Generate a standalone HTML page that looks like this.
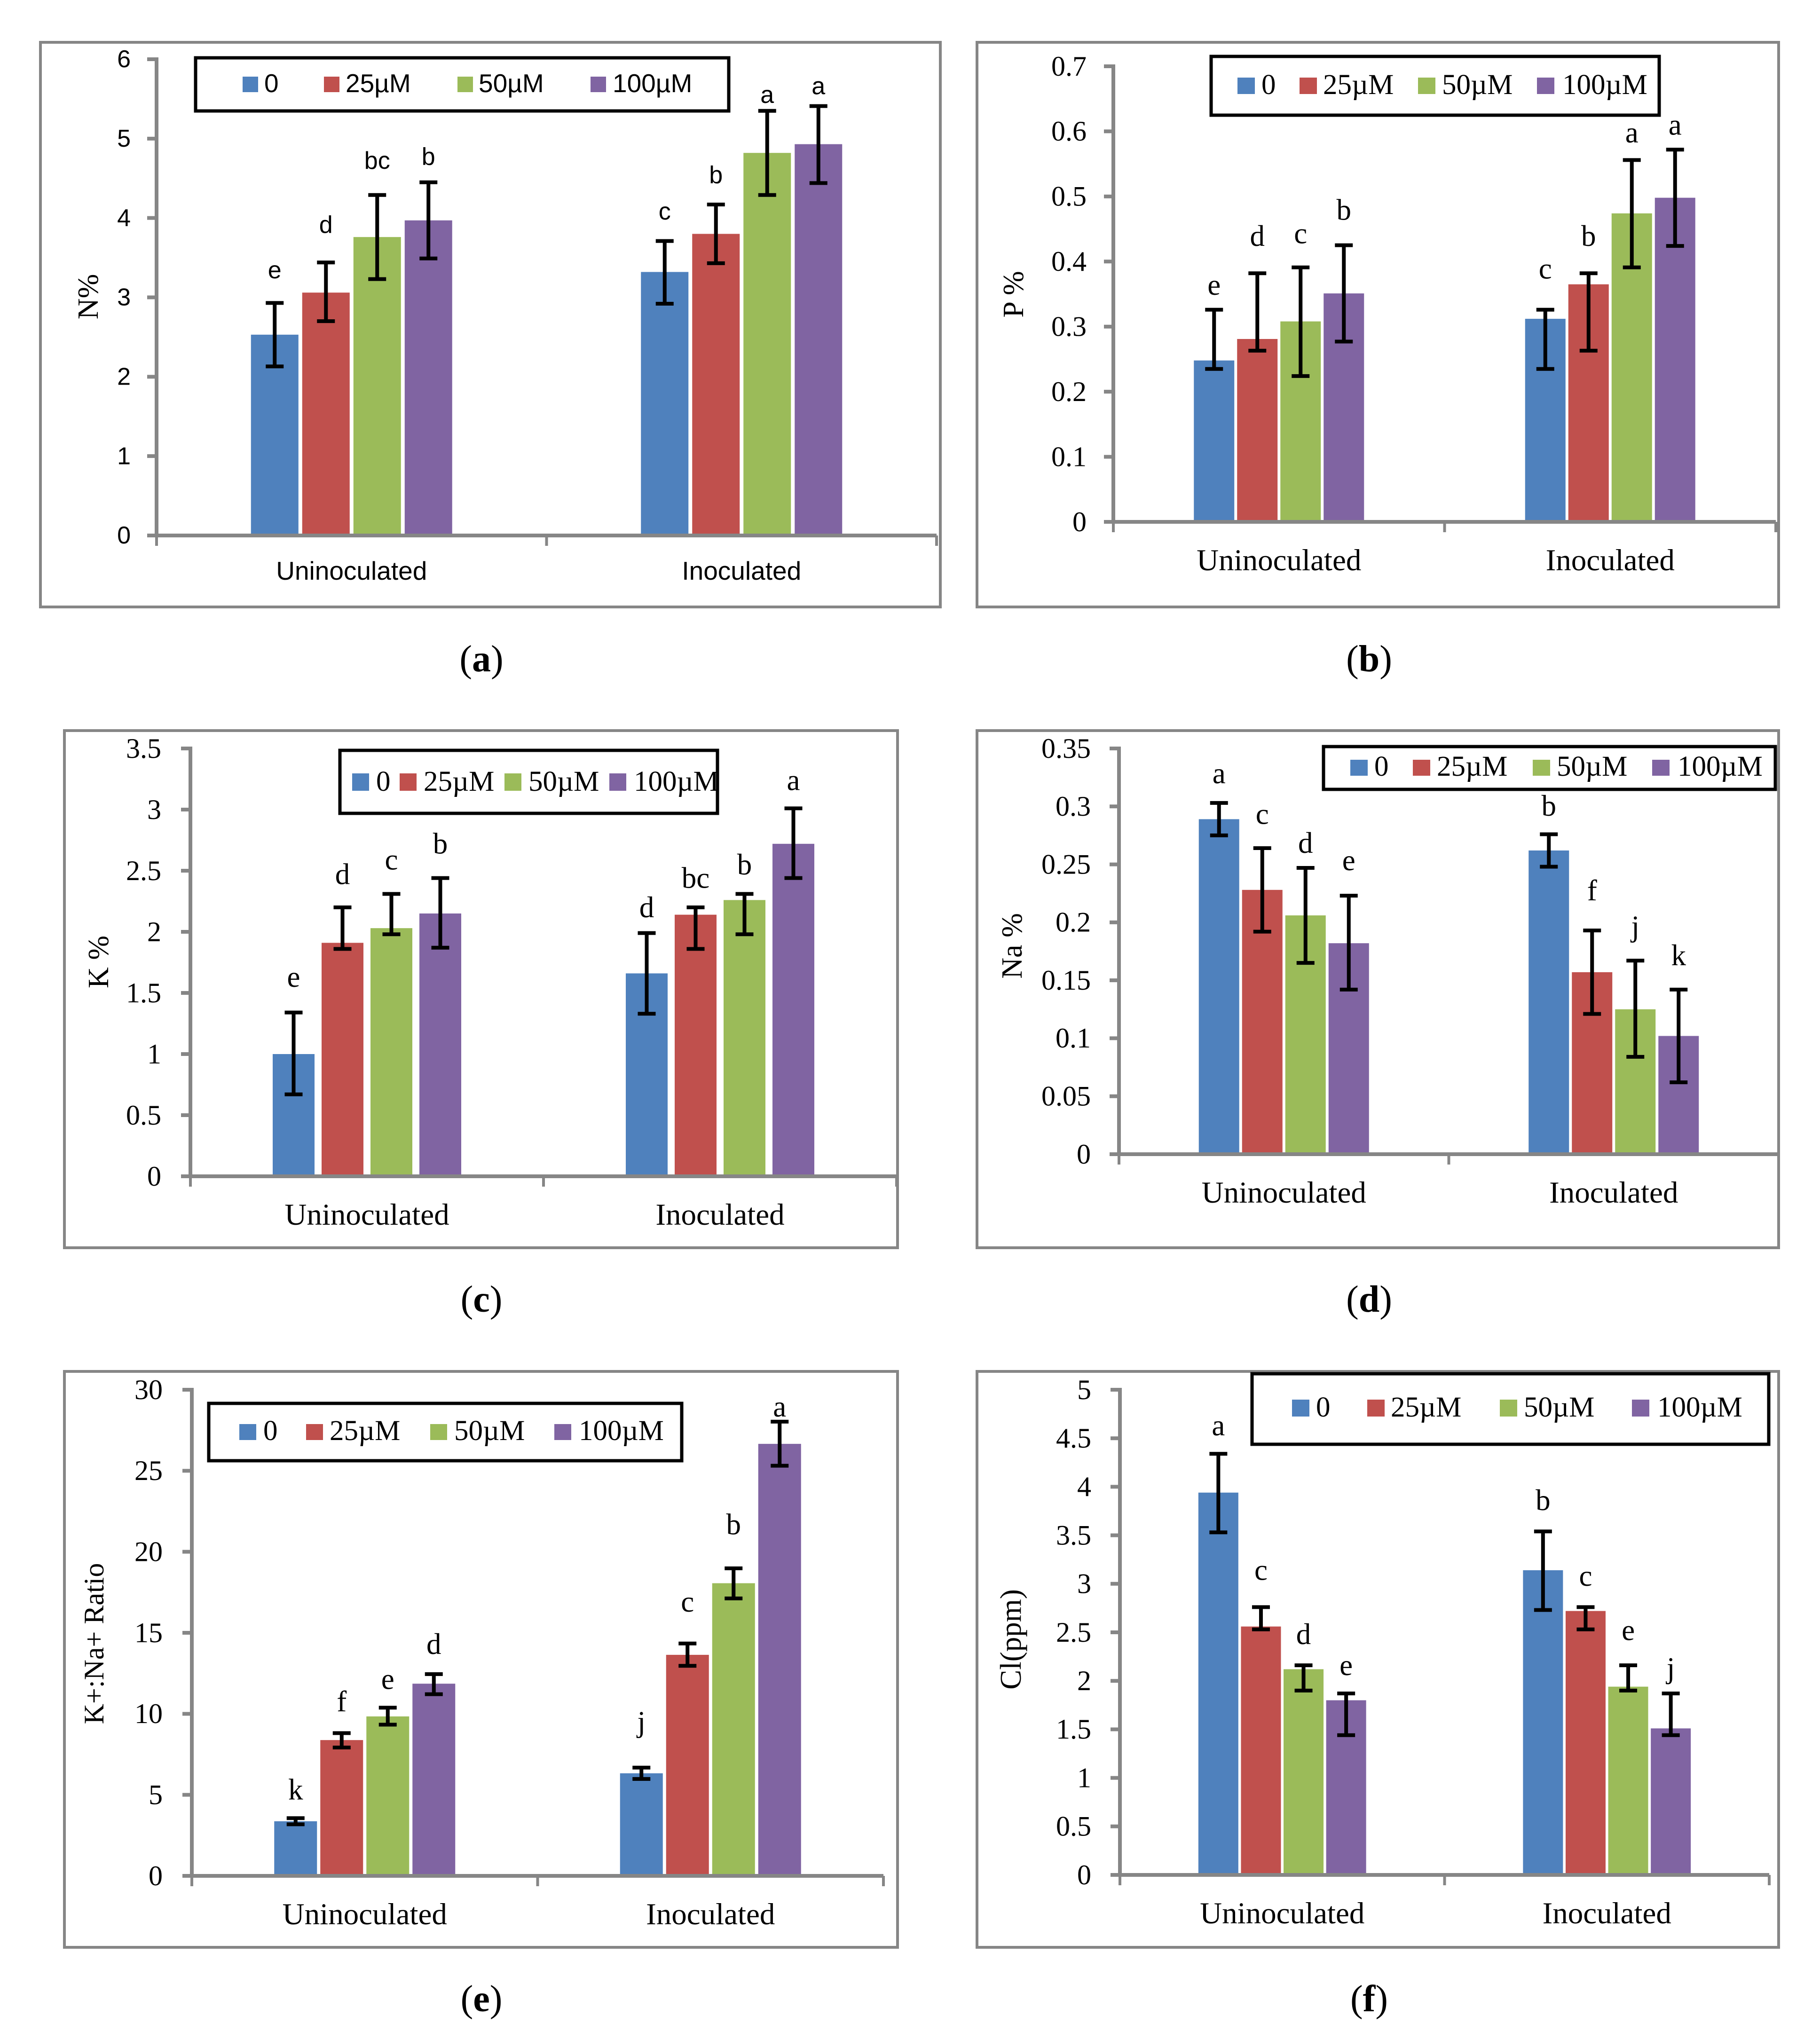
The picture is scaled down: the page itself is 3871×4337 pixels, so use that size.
<!DOCTYPE html>
<html lang="en">
<head>
<meta charset="utf-8">
<title>Six-panel nutrient bar charts</title>
<style>
html,body{margin:0;padding:0;background:#fff;}
svg{display:block;}
</style>
</head>
<body>
<svg id="figure" xmlns="http://www.w3.org/2000/svg" width="3871" height="4337" viewBox="0 0 3871 4337">
<rect x="0" y="0" width="3871" height="4337" fill="#ffffff"/>
</svg>
<script>
// ---- shared data ----
const categories = ['Uninoculated', 'Inoculated'];
const seriesLabels = ['0', '25µM', '50µM', '100µM'];

// ---- panel a: N% ----
const nTicks = ['0', '1', '2', '3', '4', '5', '6'];
const nValues = [2.53, 3.06, 3.76, 3.97, 3.32, 3.80, 4.82, 4.93];
const nHigh = [2.93, 3.44, 4.29, 4.45, 3.71, 4.17, 5.35, 5.41];
const nLow = [2.13, 2.70, 3.23, 3.49, 2.92, 3.43, 4.29, 4.44];
const nLetters = ['e', 'd', 'bc', 'b', 'c', 'b', 'a', 'a'];
const nLetterLift = [0.31, 0.37, 0.33, 0.22, 0.27, 0.27, 0.10, 0.15];

// ---- panel b: P % ----
const pTicks = ['0', '0.1', '0.2', '0.3', '0.4', '0.5', '0.6', '0.7'];
const pValues = [0.248, 0.281, 0.308, 0.351, 0.312, 0.365, 0.474, 0.498];
const pHigh = [0.326, 0.382, 0.391, 0.425, 0.326, 0.382, 0.556, 0.572];
const pLow = [0.235, 0.263, 0.224, 0.277, 0.235, 0.263, 0.391, 0.424];
const pLetters = ['e', 'd', 'c', 'b', 'c', 'b', 'a', 'a'];
const pLetterLift = [0.023, 0.042, 0.037, 0.039, 0.048, 0.042, 0.027, 0.023];

// ---- panel c: K % ----
const kTicks = ['0', '0.5', '1', '1.5', '2', '2.5', '3', '3.5'];
const kValues = [1.00, 1.91, 2.03, 2.15, 1.66, 2.14, 2.26, 2.72];
const kHigh = [1.34, 2.20, 2.31, 2.44, 1.99, 2.20, 2.31, 3.01];
const kLow = [0.67, 1.86, 1.98, 1.87, 1.33, 1.86, 1.98, 2.44];
const kLetters = ['e', 'd', 'c', 'b', 'd', 'bc', 'b', 'a'];
const kLetterLift = [0.21, 0.19, 0.20, 0.20, 0.13, 0.16, 0.16, 0.15];

// ---- panel d: Na % ----
const naTicks = ['0', '0.05', '0.1', '0.15', '0.2', '0.25', '0.3', '0.35'];
const naValues = [0.289, 0.228, 0.206, 0.182, 0.262, 0.157, 0.125, 0.102];
const naHigh = [0.303, 0.264, 0.247, 0.223, 0.276, 0.193, 0.167, 0.142];
const naLow = [0.275, 0.192, 0.165, 0.142, 0.248, 0.121, 0.084, 0.062];
const naLetters = ['a', 'c', 'd', 'e', 'b', 'f', 'j', 'k'];
const naLetterLift = [0.017, 0.021, 0.013, 0.022, 0.016, 0.026, 0.021, 0.021];

// ---- panel e: K+:Na+ ratio ----
const ratioTicks = ['0', '5', '10', '15', '20', '25', '30'];
const ratioValues = [3.37, 8.38, 9.84, 11.86, 6.33, 13.64, 18.06, 26.66];
const ratioHigh = [3.56, 8.81, 10.38, 12.45, 6.68, 14.34, 18.98, 28.03];
const ratioLow = [3.18, 7.92, 9.33, 11.21, 5.98, 12.96, 17.12, 25.31];
const ratioLetters = ['k', 'f', 'e', 'd', 'j', 'c', 'b', 'a'];
const ratioLetterLift = [1.16, 1.35, 1.16, 1.24, 2.21, 1.97, 2.10, 0.32];

// ---- panel f: Cl(ppm) ----
const clTicks = ['0', '0.5', '1', '1.5', '2', '2.5', '3', '3.5', '4', '4.5', '5'];
const clValues = [3.94, 2.56, 2.12, 1.80, 3.14, 2.72, 1.94, 1.51];
const clHigh = [4.34, 2.76, 2.16, 1.87, 3.54, 2.76, 2.16, 1.87];
const clLow = [3.53, 2.53, 1.90, 1.44, 2.73, 2.53, 1.90, 1.44];
const clLetters = ['a', 'c', 'd', 'e', 'b', 'c', 'e', 'j'];
const clLetterLift = [0.19, 0.28, 0.22, 0.19, 0.22, 0.22, 0.26, 0.16];

// ---- styling ----
const seriesColors = ['#4F81BD', '#C0504D', '#9BBB59', '#8064A2'];
const AXIS_GRAY = '#868686';
const SVG_NS = 'http://www.w3.org/2000/svg';
const SERIF = '"Liberation Serif", serif';
const SANS = '"Liberation Sans", sans-serif';
const root = document.getElementById('figure');

function make(tag, attrs, parent) {
  const node = document.createElementNS(SVG_NS, tag);
  Object.keys(attrs).forEach(function (k) { node.setAttribute(k, attrs[k]); });
  parent.appendChild(node);
  return node;
}

function drawPanel(p) {
  const g = make('g', {}, root);
  
  

  const frame = make('rect', { x: p.frame[0], y: p.frame[1], width: p.frame[2] - p.frame[0], height: p.frame[3] - p.frame[1], fill: '#fff', stroke: AXIS_GRAY, 'stroke-width': 6 }, g);
  
  

  const maxTick = parseFloat(p.ticks[p.ticks.length - 1]);
  const yScale = function (v) { return p.y0 - (v / maxTick) * (p.y0 - p.yTop); };
  const catWidth = (p.x1 - p.x0) / categories.length;
  const barX = function (i) {
    const cat = Math.floor(i / seriesLabels.length);
    const s = i % seriesLabels.length;
    const center = p.x0 + catWidth * (cat + 0.5);
    return center - (p.step * 3 + p.barW) / 2 + s * p.step;
  };

  // bars
  p.values.forEach(function (v, i) {
    const s = i % seriesLabels.length;
    const top = yScale(v);
    const bar = make('rect', { x: barX(i), y: top, width: p.barW, height: p.y0 - top, fill: seriesColors[s] }, g);
    
    
  });

  // error bars
  p.values.forEach(function (v, i) {
    const cx = barX(i) + p.barW / 2;
    const yHi = yScale(p.high[i]);
    const yLo = yScale(p.low[i]);
    const d = 'M' + cx + ' ' + yHi + 'V' + yLo + 'M' + (cx - 19) + ' ' + yHi + 'H' + (cx + 19) + 'M' + (cx - 19) + ' ' + yLo + 'H' + (cx + 19);
    const err = make('path', { d: d, fill: 'none', stroke: '#000', 'stroke-width': 8 }, g);
    
    
  });

  // significance letters
  p.letters.forEach(function (t, i) {
    const lab = make('text', { x: barX(i) + p.barW / 2, y: yScale(p.high[i] + p.lift[i]), 'text-anchor': 'middle', 'font-family': p.font, 'font-size': p.textSize, fill: '#000' }, g);
    lab.textContent = t;
    
    
  });

  // axes
  const yAxis = make('line', { x1: p.x0, y1: p.yTop - 4, x2: p.x0, y2: p.y0 + 4, stroke: AXIS_GRAY, 'stroke-width': 8 }, g);
  
  
  const xAxis = make('line', { x1: p.x0, y1: p.y0, x2: p.x1, y2: p.y0, stroke: AXIS_GRAY, 'stroke-width': 8 }, g);
  
  

  p.ticks.forEach(function (t) {
    const y = yScale(parseFloat(t));
    const tick = make('line', { x1: p.x0 - 20, y1: y, x2: p.x0, y2: y, stroke: AXIS_GRAY, 'stroke-width': 8 }, g);
    
    
    const lab = make('text', { x: p.x0 - p.tickGap, y: y + p.tickSize * 0.33, 'text-anchor': 'end', 'font-family': p.font, 'font-size': p.tickSize, fill: '#000' }, g);
    lab.textContent = t;
    
    
  });

  for (let c = 0; c <= categories.length; c++) {
    const x = p.x0 + c * catWidth;
    const tick = make('line', { x1: x, y1: p.y0, x2: x, y2: p.y0 + 22, stroke: AXIS_GRAY, 'stroke-width': 6 }, g);
    
    
  }

  categories.forEach(function (t, c) {
    const lab = make('text', { x: p.x0 + catWidth * (c + 0.5), y: p.y0 + p.catGap, 'text-anchor': 'middle', 'font-family': p.font, 'font-size': p.catSize, fill: '#000' }, g);
    lab.textContent = t;
    
    
  });

  // y-axis title
  const title = make('text', { transform: 'translate(' + p.titleX + ' ' + p.titleY + ') rotate(-90)', 'text-anchor': 'middle', 'font-family': SERIF, 'font-size': p.titleSize, fill: '#000' }, g);
  title.textContent = p.title;
  
  

  // legend
  const lg = make('g', {}, g);
  
  
  const box = make('rect', { x: p.legendBox[0], y: p.legendBox[1], width: p.legendBox[2] - p.legendBox[0], height: p.legendBox[3] - p.legendBox[1], fill: '#fff', stroke: '#000', 'stroke-width': 7 }, lg);
  
  
  seriesLabels.forEach(function (t, s) {
    const swatch = make('rect', { x: p.legendSwatchX[s], y: p.legendY[0], width: p.legendSwatchW, height: p.legendY[1] - p.legendY[0], fill: seriesColors[s] }, lg);
    
    
    const lab = make('text', { x: p.legendTextX[s], y: p.legendY[1], 'font-family': p.font, 'font-size': p.legendSize, fill: '#000' }, lg);
    lab.textContent = t;
    
    
  });

  // caption
  const cap = make('text', { x: p.capX, y: p.capY, 'text-anchor': 'middle', 'font-family': SERIF, 'font-size': 80, fill: '#000' }, g);
  
  
  make('tspan', {}, cap).textContent = '(';
  make('tspan', { 'font-weight': 'bold' }, cap).textContent = p.key;
  make('tspan', {}, cap).textContent = ')';
}

drawPanel({
  key: 'a', font: SANS, title: 'N%', ticks: nTicks, values: nValues, high: nHigh, low: nLow, letters: nLetters, lift: nLetterLift,
  frame: [86, 90, 2000, 1291], x0: 333, x1: 1992, y0: 1139, yTop: 126, barW: 101, step: 109,
  textSize: 52, catSize: 55, tickSize: 52, tickGap: 55, catGap: 94, titleSize: 62, titleX: 208, titleY: 631,
  legendBox: [416, 123, 1550, 236], legendSwatchX: [516, 689, 973, 1256], legendTextX: [562, 735, 1018, 1303], legendSwatchW: 33, legendY: [163, 196], legendSize: 55,
  capX: 1024, capY: 1428
});
drawPanel({
  key: 'b', font: SERIF, title: 'P %', ticks: pTicks, values: pValues, high: pHigh, low: pLow, letters: pLetters, lift: pLetterLift,
  frame: [2078, 90, 3783, 1291], x0: 2368, x1: 3777, y0: 1110, yTop: 141, barW: 86, step: 92,
  textSize: 63, catSize: 65, tickSize: 60, tickGap: 57, catGap: 103, titleSize: 62, titleX: 2176, titleY: 626,
  legendBox: [2576, 120, 3529, 245], legendSwatchX: [2632, 2764, 3016, 3269], legendTextX: [2683, 2814, 3067, 3323], legendSwatchW: 37, legendY: [165, 200], legendSize: 61,
  capX: 2912, capY: 1428
});
drawPanel({
  key: 'c', font: SERIF, title: 'K %', ticks: kTicks, values: kValues, high: kHigh, low: kLow, letters: kLetters, lift: kLetterLift,
  frame: [137, 1554, 1909, 2654], x0: 405, x1: 1907, y0: 2502, yTop: 1592, barW: 89, step: 104,
  textSize: 63, catSize: 65, tickSize: 60, tickGap: 62, catGap: 103, titleSize: 62, titleX: 230, titleY: 2046,
  legendBox: [723, 1596, 1526, 1730], legendSwatchX: [749, 850, 1073, 1296], legendTextX: [800, 901, 1124, 1348], legendSwatchW: 36, legendY: [1645, 1682], legendSize: 61,
  capX: 1024, capY: 2790
});
drawPanel({
  key: 'd', font: SERIF, title: 'Na %', ticks: naTicks, values: naValues, high: naHigh, low: naLow, letters: naLetters, lift: naLetterLift,
  frame: [2078, 1554, 3783, 2654], x0: 2380, x1: 3783, y0: 2455, yTop: 1592, barW: 86, step: 92,
  textSize: 63, catSize: 65, tickSize: 60, tickGap: 60, catGap: 103, titleSize: 62, titleX: 2173, titleY: 2012,
  legendBox: [2815, 1588, 3776, 1679], legendSwatchX: [2872, 3005, 3260, 3514], legendTextX: [2923, 3056, 3311, 3568], legendSwatchW: 37, legendY: [1616, 1650], legendSize: 61,
  capX: 2912, capY: 2790
});
drawPanel({
  key: 'e', font: SERIF, title: 'K+:Na+ Ratio', ticks: ratioTicks, values: ratioValues, high: ratioHigh, low: ratioLow, letters: ratioLetters, lift: ratioLetterLift,
  frame: [137, 2917, 1909, 4142], x0: 408, x1: 1879, y0: 3990, yTop: 2956, barW: 91, step: 98,
  textSize: 63, catSize: 65, tickSize: 60, tickGap: 62, catGap: 103, titleSize: 60, titleX: 220, titleY: 3496,
  legendBox: [444, 2985, 1450, 3107], legendSwatchX: [509, 651, 915, 1179], legendTextX: [560, 701, 966, 1231], legendSwatchW: 36, legendY: [3029, 3063], legendSize: 61,
  capX: 1024, capY: 4278
});
drawPanel({
  key: 'f', font: SERIF, title: 'Cl(ppm)', ticks: clTicks, values: clValues, high: clHigh, low: clLow, letters: clLetters, lift: clLetterLift,
  frame: [2078, 2917, 3783, 4142], x0: 2382, x1: 3763, y0: 3988, yTop: 2956, barW: 85, step: 90.6,
  textSize: 63, catSize: 65, tickSize: 60, tickGap: 61, catGap: 103, titleSize: 63, titleX: 2171, titleY: 3487,
  legendBox: [2663, 2922, 3762, 3072], legendSwatchX: [2748, 2908, 3190, 3471], legendTextX: [2799, 2958, 3241, 3525], legendSwatchW: 37, legendY: [2977, 3013], legendSize: 61,
  capX: 2912, capY: 4278
});
</script>
</body>
</html>
